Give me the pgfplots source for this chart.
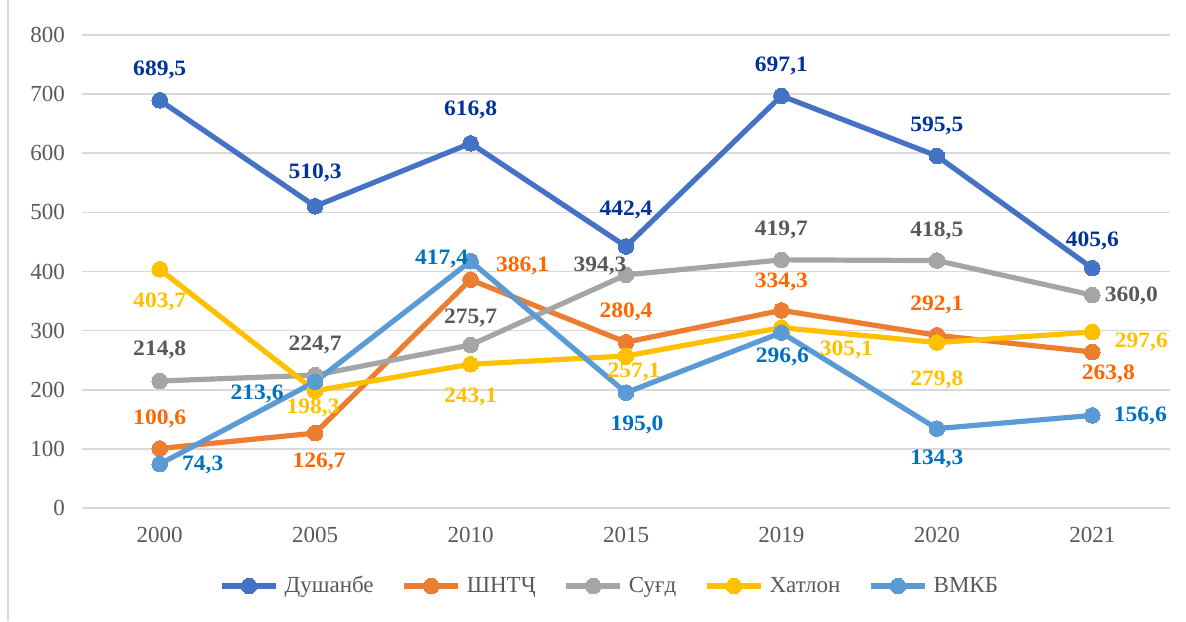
\documentclass[border=0pt]{standalone}
\usepackage{pgfplots}
\pgfplotsset{compat=1.18}
\usepackage{fontspec}
\setmainfont{Liberation Serif}
\newfontfamily\labfont[FakeStretch=1.07]{Liberation Serif}
\definecolor{cDu}{HTML}{4472C4}
\definecolor{cSh}{HTML}{ED7D31}
\definecolor{cSu}{HTML}{A5A5A5}
\definecolor{cKh}{HTML}{FFC000}
\definecolor{cVm}{HTML}{5B9BD5}
\definecolor{tDu}{HTML}{003399}
\definecolor{tSh}{HTML}{FF6600}
\definecolor{tSu}{HTML}{595959}
\definecolor{tKh}{HTML}{FFC000}
\definecolor{tVm}{HTML}{0070C0}
\definecolor{grid}{HTML}{D9D9D9}
\definecolor{tick}{HTML}{595959}
\pgfplotsset{
  myline/.style 2 args={color=#1, line width=2.6pt, mark=*, mark size=3.9pt,
    mark options={solid, fill=#1, line width=0pt},
    every node near coord/.append style={text=#2}},
}
\begin{document}
\begin{tikzpicture}
\useasboundingbox (-41pt,-56.5pt) rectangle (552pt,254pt);
\begin{axis}[
  at={(0,0)}, anchor=south west,
  scale only axis, width=544pt, height=236.5pt,
  xmin=-0.5, xmax=6.5, ymin=0, ymax=800,
  xtick={0,...,6},
  xticklabels={2000,2005,2010,2015,2019,2020,2021},
  ytick={0,100,...,800},
  axis line style={draw=none},
  tick style={draw=none},
  ymajorgrids, major grid style={color=grid, line width=0.75pt},
  /pgf/number format/assume math mode=true,
  ticklabel style={font=\fontsize{11.5}{13}\selectfont, text=tick},
  yticklabel style={xshift=-5pt},
  xticklabel style={yshift=-6pt},
  clip=false,
  point meta=explicit symbolic,
  nodes near coords={\pgfplotspointmeta},
  visualization depends on={value \thisrow{dx}\as\dx},
  visualization depends on={value \thisrow{dy}\as\dy},
  every node near coord/.append style={anchor=center, xshift=\dx pt, yshift=\dy pt,
     font=\labfont\bfseries\fontsize{11}{13}\selectfont, inner sep=0pt},
  legend columns=5,
  legend style={at={(0.486,-0.165)}, anchor=center, draw=none,
    font=\fontsize{11.5}{13}\selectfont, text=tick,
    /tikz/every even column/.append style={column sep=12pt},
    /tikz/every odd column/.append style={column sep=1pt}},
  legend image code/.code={\draw[#1, mark repeat=2, mark phase=2] plot coordinates {(0pt,0pt) (13.5pt,0pt) (27pt,0pt)};},
]
\addplot[myline={cDu}{tDu}] table[x=x,y=y,meta=lab] {
x y dx dy lab
0 689.5 0 15 689,5
1 510.3 0 16.5 510,3
2 616.8 0 16.5 616,8
3 442.4 0 18.5 442,4
4 697.1 0 15 697,1
5 595.5 0 15 595,5
6 405.6 0 13.5 405,6
};
\addlegendentry{Душанбе}
\addplot[myline={cSh}{tSh}] table[x=x,y=y,meta=lab] {
x y dx dy lab
0 100.6 0 15 100,6
1 126.7 2 -14.5 126,7
2 386.1 26 7 386,1
3 280.4 0 15 280,4
4 334.3 0 14 334,3
5 292.1 0 15 292,1
6 263.8 8 -11 263,8
};
\addlegendentry{ШНТҶ}
\addplot[myline={cSu}{tSu}] table[x=x,y=y,meta=lab] {
x y dx dy lab
0 214.8 0 15.5 214,8
1 224.7 0 15 224,7
2 275.7 0 13.5 275,7
3 394.3 -13 4.5 394,3
4 419.7 0 15 419,7
5 418.5 0 15 418,5
6 360.0 19.5 -0.5 360,0
};
\addlegendentry{Суғд}
\addplot[myline={cKh}{tKh}] table[x=x,y=y,meta=lab] {
x y dx dy lab
0 403.7 0 -16.5 403,7
1 198.3 -1 -8.5 198,3
2 243.1 0 -16.5 243,1
3 257.1 4 -8 257,1
4 305.1 32.5 -11 305,1
5 279.8 0 -18.5 279,8
6 297.6 24.5 -5 297,6
};
\addlegendentry{Хатлон}
\addplot[myline={cVm}{tVm}] table[x=x,y=y,meta=lab] {
x y dx dy lab
0 74.3 21.5 -0.5 74,3
1 213.6 -29 -6 213,6
2 417.4 -14.5 1 417,4
3 195.0 5.5 -16 195,0
4 296.6 0.5 -12 296,6
5 134.3 0 -15 134,3
6 156.6 24 -0.5 156,6
};
\addlegendentry{ВМКБ}
\end{axis}
\draw[color=grid, line width=0.75pt] (-37pt,-56.5pt) -- (-37pt,254pt);
\end{tikzpicture}
\end{document}
